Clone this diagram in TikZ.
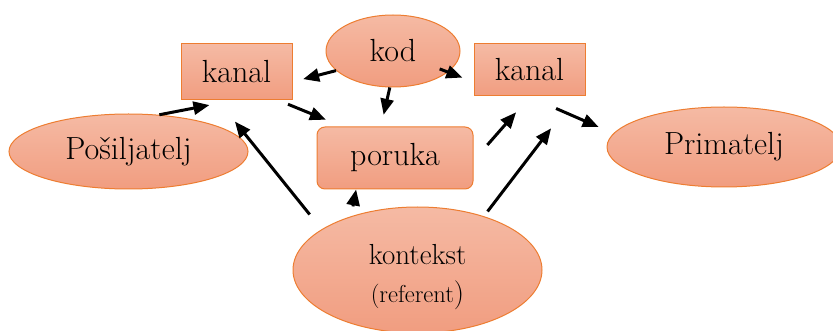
\documentclass[tikz,border=0pt]{standalone}
\usepackage{fontspec}
\usetikzlibrary{arrows.meta}
\usepgflibrary{shapes.geometric}
\definecolor{boxline}{RGB}{237,125,49}
\definecolor{fillTop}{RGB}{245,186,164}
\definecolor{fillBot}{RGB}{241,157,128}

\begin{document}
\begin{tikzpicture}[x=1pt, y=-1pt,
        box/.style={draw=boxline, line width=1pt, top color=fillTop, bottom color=fillBot, minimum width=111pt, font=\fontsize{32}{34}\selectfont},
        ell/.style={ellipse, draw=boxline, line width=1pt, top color=fillTop, bottom color=fillBot, font=\fontsize{32}{34}\selectfont},
        arr/.style={line width=3pt, -{Triangle[length=16pt,width=13pt]}}]
        \clip (0,0) rectangle (833,331);

        \node[box, minimum height=56pt] (kanalL) at (236.5,72) {kanal};
        \node[box, minimum height=52pt] (kanalR) at (529.5,70) {kanal};
        \node[box, rounded corners=8pt, minimum width=156pt, minimum height=62pt] (poruka) at (395,158) {poruka};
        \node[ell, minimum width=134pt, minimum height=72pt] (kod) at (393,51) {kod};
        \node[ell, minimum width=239pt, minimum height=75pt] (posiljatelj) at (128.5,151.5) {Pošiljatelj};
        \node[ell, minimum width=234pt, minimum height=80pt] (primatelj) at (724,147) {Primatelj};
        \node[ell, minimum width=249pt, minimum height=126pt] (kontekst) at (417.5,270) {};
        \node[align=center, font=\fontsize{29}{38}\selectfont] (kontekstTxt) at (417.5,277) {kontekst\\{\fontsize{24.5}{38}\selectfont(referent})};

        \draw[arr, shorten >=24pt] (posiljatelj.50) -- (kanalL.263);
        \draw[arr, shorten >=11pt] (kod.199) -- (kanalL.350);
        \draw[arr, shorten >=12pt] (kod.265) -- (poruka.114);
        \draw[arr, shorten <=10pt, shorten >=18pt] (kanalL.326) -- (poruka.149);
        \draw[arr, shorten <=50pt, shorten >=12pt] (kod.center) -- (kanalR.192);
        \draw[arr, shorten <=21pt, shorten >=21pt] (poruka.358) -- (kanalR.271);
        \draw[arr, shorten <=30pt, shorten >=16pt] (kanalR.268) -- (primatelj.173);
        \draw[arr, shorten <=19pt, shorten >=27pt] (kontekst.157) -- (kanalL.237);
        \draw[arr, shorten <=10pt] (kontekst.141) -- (poruka.219);
        \draw[arr, shorten <=6pt, shorten >=40pt] (kontekst.39) -- (kanalR.330);

\end{tikzpicture}
\end{document}
